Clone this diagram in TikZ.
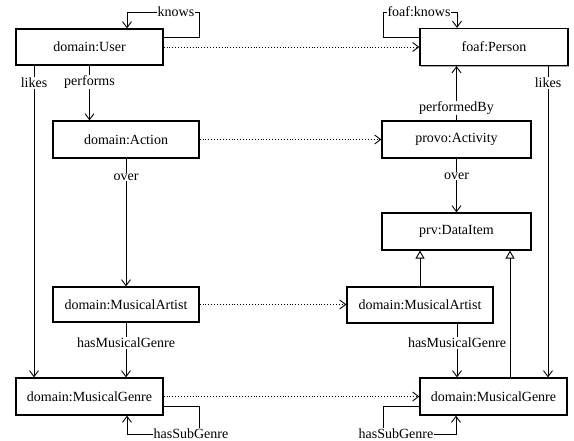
\documentclass[tikz,border=0pt]{standalone}
\usepackage{fontspec}
\setmainfont{Liberation Serif}
\usetikzlibrary{arrows.meta,shadows}
\begin{document}
\begin{tikzpicture}[x=1pt,y=-1pt,
  every node/.style={font=\fontsize{14}{16}\selectfont},
  cls/.style={draw,line width=1.2pt,fill=white,inner sep=0pt,
    drop shadow={shadow xshift=1.2pt,shadow yshift=-1.2pt,opacity=0.35,fill=black}},
  lbl/.style={fill=white,inner sep=1pt},
  arr/.style={line width=0.9pt,-{Straight Barb[length=6pt,width=9pt,line width=0.9pt]}},
  dotarr/.style={line width=0.9pt,dotted,-{Straight Barb[length=6pt,width=9pt,line width=0.9pt]}},
  dotline/.style={line width=0.9pt,dotted},
  inh/.style={line width=0.9pt,-{Triangle[open,length=8pt,width=9pt,line width=0.9pt]}}]
\useasboundingbox (0,0) rectangle (574,441);
% classes
\node[cls,minimum width=147pt,minimum height=36pt] (U) at (89.5,47) {domain:User};
\node[cls,minimum width=148pt,minimum height=37pt] (P) at (494,47) {foaf:Person};
\node[cls,minimum width=146pt,minimum height=37pt] (A) at (126,139.5) {domain:Action};
\node[cls,minimum width=149pt,minimum height=37pt] (Act) at (456.5,139.5) {provo:Activity};
\node[cls,minimum width=149pt,minimum height=37pt] (DI) at (456.5,231.5) {prv:DataItem};
\node[cls,minimum width=146pt,minimum height=35pt] (MAL) at (126,304.5) {domain:MusicalArtist};
\node[cls,minimum width=146pt,minimum height=36pt] (MAR) at (420,305) {domain:MusicalArtist};
\node[cls,minimum width=147pt,minimum height=37pt] (GL) at (89.5,396.5) {domain:MusicalGenre};
\node[cls,minimum width=147pt,minimum height=37pt] (GR) at (493.5,396.5) {domain:MusicalGenre};
% left side connectors
\draw[arr] ([yshift=-9pt]U.north east) -| (199,12) -| ([xshift=37.5pt]U.north);
\draw[arr] (U.south) -- (U.south |- A.north);
\draw[arr] ([xshift=-55.5pt]U.south) -- ([xshift=-55.5pt]U.south |- GL.north);
\draw[arr] (A.south) -- (A.south |- MAL.north);
\draw[arr] (MAL.south) -- (MAL.south |- GL.north);
\draw[arr] ([yshift=9pt]GL.south east) -| (199,434) -| ([xshift=37.5pt]GL.south);
% right side connectors
\draw[arr] ([yshift=-10pt]P.north west) -| (383,12) -| ([xshift=-37pt]P.north);
\draw[arr] (Act.north) -- (Act.north |- P.south);
\draw[arr] ([xshift=54pt]P.south) -- ([xshift=54pt]P.south |- GR.north);
\draw[arr] (Act.south) -- (DI.north);
\draw[inh] (MAR.north) -- (MAR.north |- DI.south);
\draw[inh] ([xshift=16.5pt]GR.north) -- ([xshift=16.5pt]GR.north |- DI.south);
\draw[arr] ([xshift=37pt]MAR.south) -- ([xshift=37pt]MAR.south |- GR.north);
\draw[arr] ([yshift=9pt]GR.south west) -| (383,434) -| ([xshift=-37.5pt]GR.south);
% dotted mappings
\draw[dotarr] (U.east) -- (P.west);
\draw[dotarr] (A.east) -- (Act.west);
\draw[dotarr] (MAL.east) -- (MAL.east -| MAR.west);
\draw[dotarr] (GL.east) -- (GR.west);
% labels
\node[lbl] (lknows) at (176,12) {knows};
\node[lbl] (lfknows) at (419,12) {foaf:knows};
\node[lbl] (llikesL) at (34,83) {likes};
\node[lbl] (lperforms) at (89.5,82) {performs};
\node[lbl] (loverL) at (126,177) {over};
\node[lbl] (lhmgL) at (126,343) {hasMusicalGenre};
\node[lbl] (lsubL) at (191,434) {hasSubGenre};
\node[lbl] (lperfBy) at (456.5,108) {performedBy};
\node[lbl] (llikesR) at (548,83) {likes};
\node[lbl] (loverR) at (456.5,176) {over};
\node[lbl] (lhmgR) at (457,343) {hasMusicalGenre};
\node[lbl] (lsubR) at (396,434) {hasSubGenre};
\end{tikzpicture}
\end{document}
